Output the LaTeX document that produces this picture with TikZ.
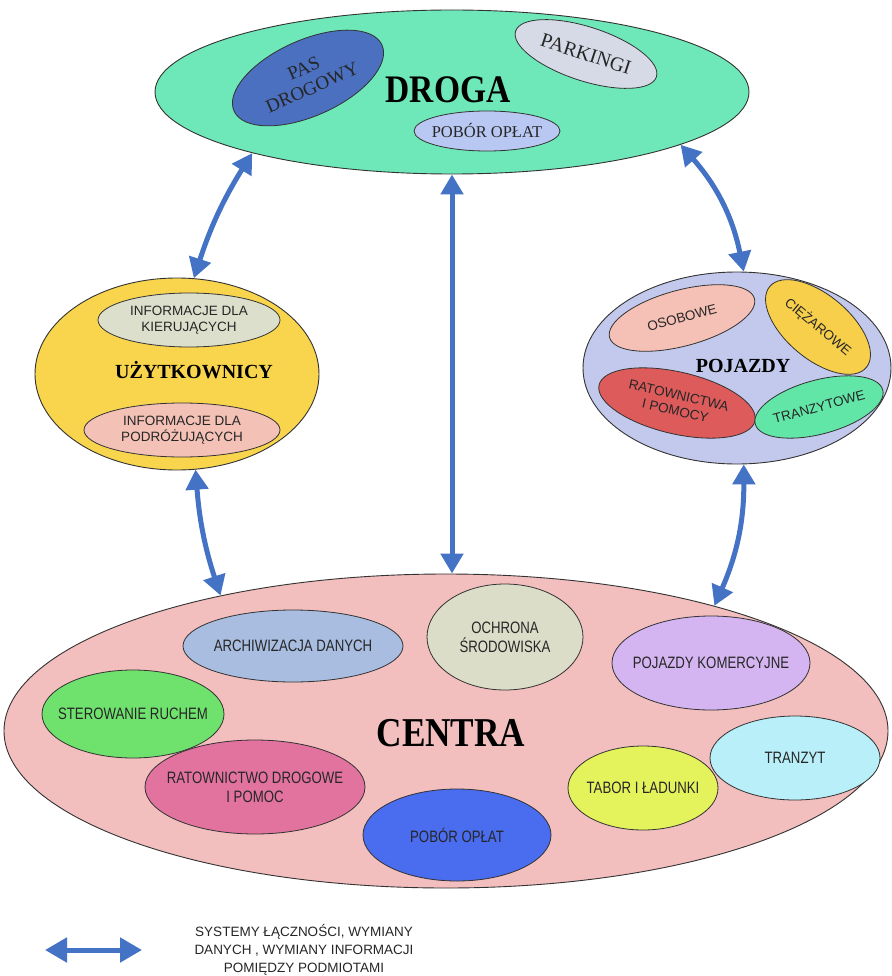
\documentclass[tikz,border=0pt]{standalone}
\usepackage{fontspec}
\setmainfont{Liberation Serif}
\setsansfont{Liberation Sans}
\newfontfamily\narrowsf[FakeStretch=0.8]{Liberation Sans}
\newfontfamily\narrowserif[FakeStretch=0.86]{Liberation Serif}
\usetikzlibrary{shapes.geometric,arrows.meta}
\definecolor{arrowblue}{HTML}{4472C4}
\definecolor{cDroga}{HTML}{6EE8B8}
\definecolor{cPas}{HTML}{4A70BF}
\definecolor{cPark}{HTML}{D5DAE6}
\definecolor{cPobA}{HTML}{B8C8F2}
\definecolor{cUzyt}{HTML}{F9D54E}
\definecolor{cKier}{HTML}{DCDFCB}
\definecolor{cPodr}{HTML}{F4C1B6}
\definecolor{cPoj}{HTML}{C3C9EC}
\definecolor{cOsob}{HTML}{F5C0B5}
\definecolor{cCiez}{HTML}{F7CF4B}
\definecolor{cRat}{HTML}{DD5B5B}
\definecolor{cTranz}{HTML}{62E6A8}
\definecolor{cCentra}{HTML}{F2BEBE}
\definecolor{cArch}{HTML}{A8BDE0}
\definecolor{cOchr}{HTML}{DCDDC8}
\definecolor{cKom}{HTML}{D4B5F2}
\definecolor{cSter}{HTML}{6FE26D}
\definecolor{cRatD}{HTML}{E2739F}
\definecolor{cPobC}{HTML}{4A6CEE}
\definecolor{cTabor}{HTML}{E4F35B}
\definecolor{cTranzyt}{HTML}{B9EFF9}
\definecolor{txt}{HTML}{262626}
\tikzset{
  oval/.style={ellipse, draw=black!80, line width=0.8pt, inner xsep=-30pt, inner ysep=0pt, align=center, text=txt},
  big/.style={oval, line width=0.9pt},
  biarrow/.style={draw=arrowblue, line width=5pt,
    {Triangle[width=22pt,length=20pt]}-{Triangle[width=22pt,length=20pt]}},
  serifsmall/.style={font=\fontsize{19}{21}\selectfont},
  sfinfo/.style={font=\fontsize{13.5}{16}\selectfont\sffamily},
  sfcentra/.style={font=\fontsize{16.5}{19}\selectfont\narrowsf},
  titletext/.style={font=\fontsize{20}{20}\selectfont\bfseries, text=black, inner sep=0pt},
  legendtext/.style={font=\fontsize{13.5}{18}\selectfont\sffamily, text=txt, align=center, inner sep=0pt}
}
\begin{document}
\begin{tikzpicture}[x=1pt,y=-1pt]
\useasboundingbox[fill=white] (0,0) rectangle (891,976);

% DROGA
\node[big, fill=cDroga, minimum width=594pt, minimum height=164pt] (droga) at (452,92) {};
\node[oval, fill=cPas, minimum width=162pt, minimum height=76pt, rotate=24, serifsmall] (pas) at (308,78) {PAS\\DROGOWY};
\node[oval, fill=cPark, minimum width=148pt, minimum height=54pt, rotate=-18, font=\fontsize{20}{20}\selectfont] (park) at (586,54) {PARKINGI};
\node[oval, fill=cPobA, minimum width=146pt, minimum height=40pt, font=\fontsize{16.5}{16.5}\selectfont] (poba) at (487,131) {POBÓR OPŁAT};
\node[titletext, font=\fontsize{39}{39}\selectfont\narrowserif\bfseries] (drogat) at (448,90) {DROGA};

% UZYTKOWNICY
\node[big, fill=cUzyt, minimum width=284pt, minimum height=192pt] (uzyt) at (177,374) {};
\node[oval, fill=cKier, minimum width=182pt, minimum height=54pt, sfinfo] (kier) at (189,320) {INFORMACJE DLA\\KIERUJĄCYCH};
\node[oval, fill=cPodr, minimum width=196pt, minimum height=54pt, sfinfo] (podr) at (182,430) {INFORMACJE DLA\\PODRÓŻUJĄCYCH};
\node[titletext] (uzytt) at (194,370) {UŻYTKOWNICY};

% POJAZDY
\node[big, fill=cPoj, minimum width=308pt, minimum height=192pt] (poj) at (737,368) {};
\node[oval, fill=cOsob, minimum width=150pt, minimum height=56pt, rotate=15, sfinfo] (osob) at (682,318) {OSOBOWE};
\node[oval, fill=cCiez, minimum width=126pt, minimum height=64pt, rotate=-40, sfinfo] (ciez) at (818,327) {CIĘŻAROWE};
\node[oval, fill=cRat, minimum width=160pt, minimum height=62pt, rotate=-13, sfinfo] (rat) at (677,403) {RATOWNICTWA\\I POMOCY};
\node[oval, fill=cTranz, minimum width=132pt, minimum height=54pt, rotate=15, sfinfo] (tranz) at (819,407) {TRANZYTOWE};
\node[titletext] (pojt) at (743,366) {POJAZDY};

% CENTRA
\node[big, fill=cCentra, minimum width=884pt, minimum height=314pt] (centra) at (446,731) {};
\node[oval, fill=cArch, minimum width=220pt, minimum height=72pt, sfcentra] (arch) at (293,646) {ARCHIWIZACJA DANYCH};
\node[oval, fill=cOchr, minimum width=156pt, minimum height=106pt, sfcentra] (ochr) at (505,637) {OCHRONA\\ŚRODOWISKA};
\node[oval, fill=cKom, minimum width=198pt, minimum height=94pt, sfcentra] (kom) at (711,663) {POJAZDY KOMERCYJNE};
\node[oval, fill=cSter, minimum width=182pt, minimum height=88pt, sfcentra] (ster) at (133,714) {STEROWANIE RUCHEM};
\node[oval, fill=cRatD, minimum width=220pt, minimum height=94pt, sfcentra] (ratd) at (255,787) {RATOWNICTWO DROGOWE\\I POMOC};
\node[oval, fill=cPobC, minimum width=188pt, minimum height=92pt, sfcentra] (pobc) at (457,835) {POBÓR OPŁAT};
\node[oval, fill=cTabor, minimum width=150pt, minimum height=84pt, sfcentra] (tabor) at (643,788) {TABOR I ŁADUNKI};
\node[oval, fill=cTranzyt, minimum width=170pt, minimum height=84pt, sfcentra] (tranzyt) at (795,758) {TRANZYT};
\node[titletext, font=\fontsize{41}{41}\selectfont\narrowserif\bfseries] (centrat) at (451,733) {CENTRA};

% connectors
\draw[biarrow] (droga.197) to[bend right=7] (uzyt.80);
\draw[biarrow] (droga.south) -- (droga.south |- centra.north);
\draw[biarrow] (droga.347) to[bend left=15] (poj.86);
\draw[biarrow] (uzyt.281) to[bend right=7] (centra.149);
\draw[biarrow] (poj.274) to[bend left=12] (centra.25.5);

% legend
\coordinate (la) at (45,950);
\coordinate (lb) at (142,950);
\draw[draw=arrowblue, line width=5pt, {Triangle[width=24pt,length=22pt]}-{Triangle[width=24pt,length=22pt]}] (la) -- (lb);
\node[legendtext] (legend) at (304,950) {SYSTEMY ŁĄCZNOŚCI, WYMIANY\\DANYCH , WYMIANY INFORMACJI\\POMIĘDZY PODMIOTAMI};
\end{tikzpicture}
\end{document}
